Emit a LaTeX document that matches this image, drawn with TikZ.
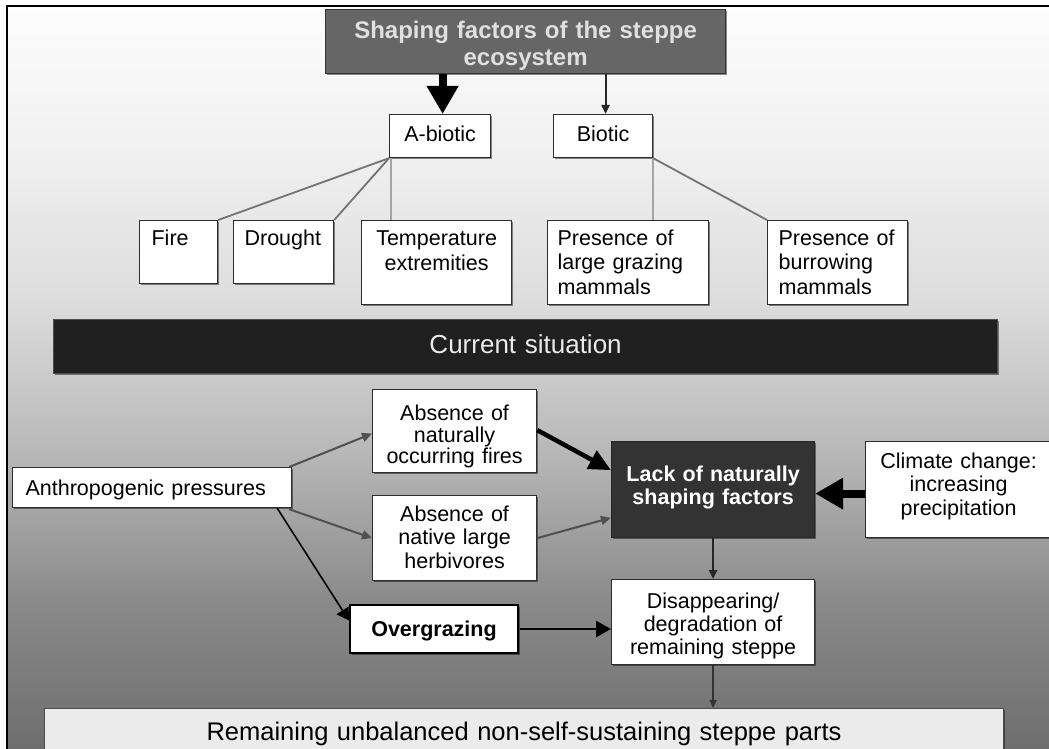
\documentclass[tikz,border=0pt]{standalone}
\usepackage{fontspec}
\setmainfont{Liberation Sans}
\usetikzlibrary{arrows.meta,shadows,calc}
\definecolor{s0}{RGB}{110,110,110}
\definecolor{s1}{RGB}{138,138,138}
\definecolor{s2}{RGB}{184,184,184}
\definecolor{s3}{RGB}{220,220,220}
\definecolor{s4}{RGB}{240,240,240}
\definecolor{s5}{RGB}{253,253,253}
\definecolor{bordc}{RGB}{45,45,45}
\definecolor{titlefill}{RGB}{102,102,102}
\definecolor{titletext}{RGB}{224,224,224}
\definecolor{barfill}{RGB}{32,32,32}
\definecolor{lackfill}{RGB}{51,51,51}
\definecolor{remfill}{RGB}{235,235,235}
\definecolor{conngray}{RGB}{115,115,115}
\definecolor{connlight}{RGB}{165,165,165}
\definecolor{arrgray}{RGB}{80,80,80}
\pgfdeclareverticalshading{bgshade}{100bp}{color(0bp)=(s0); color(25bp)=(s0); color(35bp)=(s1); color(45bp)=(s2); color(55bp)=(s3); color(65bp)=(s4); color(75bp)=(s5); color(100bp)=(s5)}
\begin{document}
\begin{tikzpicture}[x=1pt,y=-1pt,
  box/.style={draw=bordc, fill=white, line width=1.2pt, inner ysep=0pt, inner xsep=0pt, anchor=north west,
    drop shadow={shadow xshift=1.5pt,shadow yshift=-1.5pt,fill=black,opacity=0.45}},
  reg/.style={font=\fontsize{21.5}{#1}\selectfont},
  reg/.default=24,
  bld/.style={font=\fontsize{21.5}{#1}\selectfont\bfseries},
  bld/.default=23,
  conn/.style={draw=conngray, line width=1.8pt},
  connl/.style={draw=connlight, line width=1.8pt},
  bigarrow/.style={draw=black, line width=8pt, -{Triangle[width=30pt,length=28pt]}},
  medarrow/.style={draw=black, line width=4.5pt, -{Triangle[width=20pt,length=22pt]}},
  smallarrow/.style={draw=black!85, line width=2.2pt, -{Triangle[width=8pt,length=9pt]}},
  grayarrow/.style={draw=arrgray, line width=2pt, -{Triangle[width=9pt,length=10pt]}},
  thinarrow/.style={draw=black!80, line width=1.3pt, -{Triangle[width=7pt,length=8pt]}},
  blkarrow/.style={draw=black, line width=1.6pt, -{Triangle[width=14pt,length=12pt]}},
  ogarrow/.style={draw=black, line width=2.6pt, -{Triangle[width=16pt,length=15pt]}}
]
\useasboundingbox (0,0) rectangle (1049,749);
\fill[white] (0,0) rectangle (1049,749);
\shade[shading=bgshade] (7,6) rectangle (1049,749);
\draw[line width=2.2pt, black] (1049,6) -- (7,6) -- (7,749);

% top part
\node[box, draw=black!80, fill=titlefill, text=titletext, text width=400pt, align=center,
  font=\fontsize{24}{27}\selectfont\bfseries, text height=29pt, text depth=35pt] (T) at (325,9)
  {Shaping factors of the steppe\\ecosystem};
\node[box, reg, text width=101pt, align=center, text height=26.7pt, text depth=16.3pt] (A) at (389,114) {A-biotic};
\node[box, reg, text width=99pt, align=center, text height=26.7pt, text depth=16.3pt] (B) at (553,114) {Biotic};
\node[box, reg, text width=54pt, inner xsep=12pt, align=left, text height=24.7pt, text depth=38.3pt] (F1) at (139,220) {Fire};
\node[box, reg, text width=78pt, inner xsep=11pt, align=left, text height=24.7pt, text depth=38.3pt] (F2) at (233,220) {Drought};
\node[box, reg=25, text width=150pt, align=center, text height=24.7pt, text depth=59.3pt] (F3) at (361,220) {Temperature\\extremities};
\node[box, reg=24.5, text width=141pt, inner xsep=10pt, align=left, text height=24.7pt, text depth=59.3pt] (P1) at (547,220) {Presence of\\large grazing\\mammals};
\node[box, reg=24.5, text width=118pt, inner xsep=11pt, align=left, text height=24.7pt, text depth=59.3pt] (P2) at (767,220) {Presence of\\burrowing\\mammals};

\node[box, draw=black!70, fill=barfill, text=white!92!black, text width=944pt, align=center,
  font=\fontsize{26}{30}\selectfont, text height=33.4pt, text depth=20.6pt] (C) at (53,319) {Current situation};

% lower part
\node[box, reg, text width=253pt, inner xsep=13pt, align=left, text height=27.7pt, text depth=12.3pt] (AP) at (12,467) {Anthropogenic pressures};
\node[box, reg=21.7, text width=164pt, align=center, text height=30.7pt, text depth=52.3pt] (AF) at (372,389) {Absence of\\naturally\\occurring fires};
\node[box, reg=23.5, text width=164pt, align=center, text height=25.7pt, text depth=59.3pt] (AH) at (372,495) {Absence of\\native large\\herbivores};
\node[box, draw=black!85, fill=lackfill, text=white, bld=23, text width=203pt, align=center, text height=39.7pt, text depth=56.3pt] (L) at (611,441) {Lack of naturally\\shaping factors};
\node[box, reg=23.5, text width=186pt, align=center, text height=26.7pt, text depth=69.3pt] (CC) at (865,441) {Climate change:\\increasing\\precipitation};
\node[box, reg=23, text width=203pt, align=center, text height=28.7pt, text depth=56.3pt] (D) at (611,579) {Disappearing/\\degradation of\\remaining steppe};
\node[box, draw=black, line width=2pt, bld, text width=168pt, align=center, text height=31.7pt, text depth=16.3pt] (O) at (349,604) {Overgrazing};
\node[box, draw=black!70, fill=remfill, text width=959pt, align=center,
  font=\fontsize{25.5}{30}\selectfont, text height=31.4pt, text depth=30.6pt] (R) at (44,708) {Remaining unbalanced non-self-sustaining steppe parts};

% connectors top
\draw[bigarrow] ($(A.north |- T.south)+(2.5,0)$) -- ($(A.north)+(2.5,0)$);
\draw[smallarrow] ($(B.north |- T.south)+(2.5,0)$) -- ($(B.north)+(2.5,0)$);
\draw[conn] (A.south west) -- (F1.north east);
\draw[conn] (A.south west) -- (F2.north east);
\draw[connl] ($(A.south west)+(2,0)$) -- ($(A.south west |- F3.north)+(2,0)$);
\draw[connl] (B.south east) -- (B.south east |- P1.north);
\draw[conn] (B.south east) -- (P2.north west);

% connectors bottom
\draw[grayarrow] ($(AP.north east)+(-3,0)$) -- ($(AF.west)+(0,2.5)$);
\draw[grayarrow] ($(AP.south east)+(-3,1)$) -- (AH.west);
\draw[medarrow] ($(AF.east)+(0,-1)$) -- ($(L.north west)!0.3!(L.south west)$);
\draw[grayarrow] (AH.east) -- ($(L.north west)!0.79!(L.south west)$);
\draw[bigarrow] ($(CC.west)+(0,4)$) -- ($(L.east)+(0,4)$);
\draw[smallarrow] (L.south) -- (D.north);
\draw[blkarrow] ($(AP.south east)+(-15,0)$) -- ($(O.north west)!0.33!(O.south west)$);
\draw[ogarrow] ($(O.east)+(1,0)$) -- (O.east -| D.west);
\draw[thinarrow] (D.south) -- (D.south |- R.north);
\end{tikzpicture}
\end{document}
